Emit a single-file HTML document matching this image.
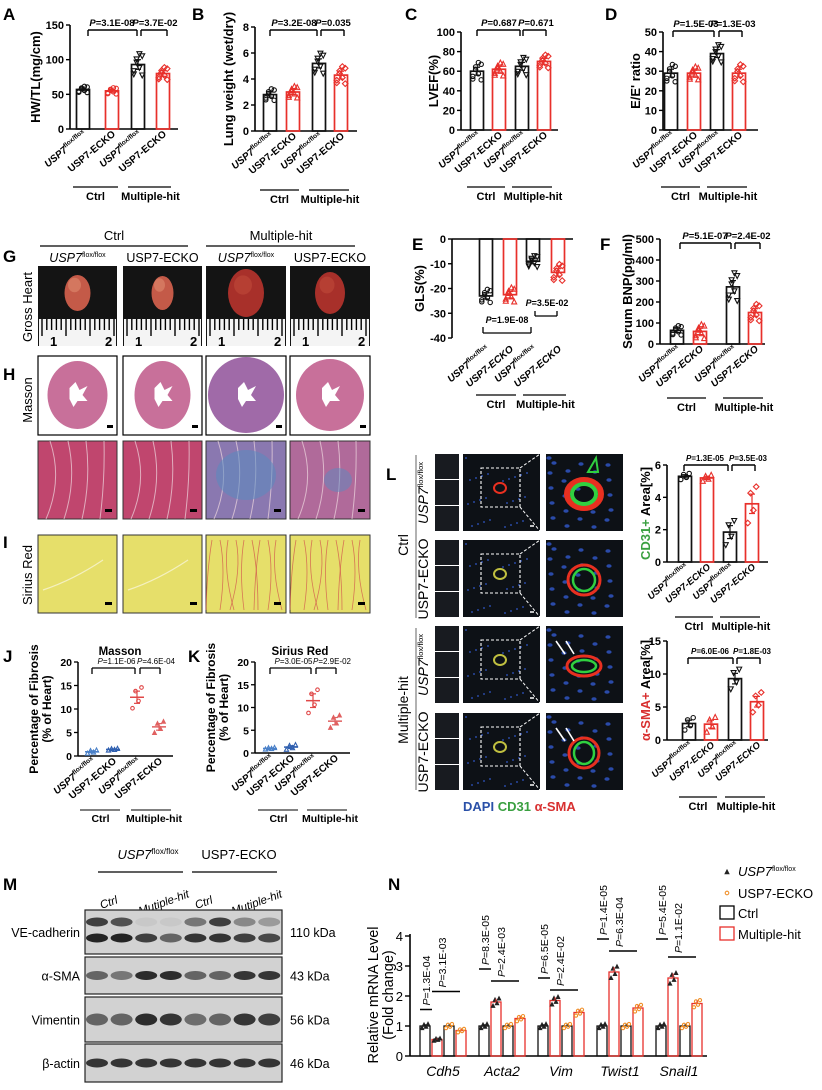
<!DOCTYPE html>
<html><head><meta charset="utf-8"><style>
html,body{margin:0;padding:0;background:#fff;width:822px;height:1090px;overflow:hidden}
svg{display:block;font-family:"Liberation Sans",Arial,sans-serif}
</style></head><body>
<svg id="s" width="822" height="1090" viewBox="0 0 822 1090" xmlns="http://www.w3.org/2000/svg"></svg>
<script>
var o=[];
function T(x,y,s,a){o.push('<text x="'+x+'" y="'+y+'" '+(a||'')+'>'+s+'</text>');}
function L(x1,y1,x2,y2,c,w,ex){o.push('<line x1="'+x1+'" y1="'+y1+'" x2="'+x2+'" y2="'+y2+'" stroke="'+(c||'#000')+'" stroke-width="'+(w||1.3)+'" '+(ex||'')+'/>');}
function R(x,y,w,h,f,ex){o.push('<rect x="'+x+'" y="'+y+'" width="'+w+'" height="'+h+'" fill="'+f+'" '+(ex||'')+'/>');}
var FL='<tspan font-style="italic">USP7</tspan><tspan font-size="6.5" dy="-4">flox/flox</tspan>';
function mk(x,y,sh,c,r){r=r||2.2;
 if(sh==0)o.push('<circle cx="'+x+'" cy="'+y+'" r="'+r+'" fill="none" stroke="'+c+'" stroke-width="1.1"/>');
 else if(sh==1)o.push('<polygon points="'+x+','+(y-r-.5)+' '+(x+r+.3)+','+(y+r)+' '+(x-r-.3)+','+(y+r)+'" fill="none" stroke="'+c+'" stroke-width="1.1"/>');
 else if(sh==2)o.push('<polygon points="'+x+','+(y+r+.5)+' '+(x+r+.3)+','+(y-r)+' '+(x-r-.3)+','+(y-r)+'" fill="none" stroke="'+c+'" stroke-width="1.1"/>');
 else if(sh==3)o.push('<polygon points="'+x+','+(y-r-.6)+' '+(x+r+.6)+','+y+' '+x+','+(y+r+.6)+' '+(x-r-.6)+','+y+'" fill="none" stroke="'+c+'" stroke-width="1.1"/>');
 else o.push('<polygon points="'+x+','+(y-r-.5)+' '+(x+r+.3)+','+(y+r)+' '+(x-r-.3)+','+(y+r)+'" fill="'+c+'" stroke="'+c+'" stroke-width=".8"/>');}
var K='#111',RD='#e8302b';
var spread=[-.9,.5,-.3,.8,-.6,.2,1.0,-1.0];
function chart(c){
 var Y=function(v){return c.yb-(v-c.min)/(c.max-c.min)*(c.yb-c.yt);};
 var y0=Y(0);
 L(c.ax,c.yt,c.ax,c.yb,'#000',1.6);
 L(c.ax,y0,c.xe,y0,'#000',1.6);
 c.ticks.forEach(function(v){L(c.ax-4,Y(v),c.ax,Y(v),'#000',1.4);T(c.ax-6,Y(v)+4,v,'font-size="11" font-weight="bold" text-anchor="end"');});
 o.push('<text transform="translate('+c.ylx+','+((c.yt+c.yb)/2)+') rotate(-90)" font-size="'+(c.yfs||13)+'" font-weight="bold" text-anchor="middle">'+c.yl+'</text>');
 c.bars.forEach(function(b,i){var col=i%2?RD:K;var yv=Y(b.v);
  R(b.x-6.5,Math.min(yv,y0),13,Math.abs(y0-yv),'none','stroke="'+col+'" stroke-width="1.7"');
  var e=b.e||(c.max-c.min)*.04;
  L(b.x,Y(b.v-e),b.x,Y(b.v+e),col,1.2);L(b.x-3,Y(b.v+e),b.x+3,Y(b.v+e),col,1.2);L(b.x-3,Y(b.v-e),b.x+3,Y(b.v-e),col,1.2);
  var n=c.n||8;for(var k=0;k<n;k++){var dv=spread[k]*(b.sd||e*2.2);mk(b.x+((k%4)-1.5)*2.8,Y(b.v+dv),b.sh!=null?b.sh:i,col);}
 });
 (c.br||[]).forEach(function(q){L(q[0],q[2]+6,q[0],q[2],'#000',1.4);L(q[0],q[2],q[1],q[2],'#000',1.4);L(q[1],q[2],q[1],q[2]+6,'#000',1.4);T(q[3],q[2]-4,'<tspan font-style="italic">P</tspan>='+q[4],'font-size="'+(c.pfs||9.5)+'" font-weight="bold" text-anchor="middle"');});
 var ly=c.labY||(c.yb+6);
 c.bars.forEach(function(b,i){var s=i%2?'USP7-ECKO':FL;o.push('<text transform="translate('+(b.x+4)+','+ly+') rotate(-40)" font-size="'+(c.lfs||10)+'" font-weight="bold" text-anchor="end"'+(c.it&&i%2?' font-style="italic"':'')+'>'+s+'</text>');});
 var b=c.bars,g=c.gy;
 L(b[0].x-10,g,b[1].x+6,g,'#000',1.2);L(b[2].x-10,g,b[3].x+8,g,'#000',1.2);
 T((b[0].x+b[1].x)/2-2,g+13,'Ctrl','font-size="11" font-weight="bold" text-anchor="middle"');
 T((b[2].x+b[3].x)/2,g+13,'Multiple-hit','font-size="11" font-weight="bold" text-anchor="middle"');
}
function P(x,y,s){T(x,y,s,'font-size="17" font-weight="bold"');}
P(3,20,'A');P(192,20,'B');P(405,20,'C');P(605,20,'D');
chart({ax:70,yt:25,yb:129,min:0,max:150,ticks:[0,50,100,150],xe:178,yl:'HW/TL(mg/cm)',ylx:40,gy:187,
 bars:[{x:83,v:57,e:2,sh:0},{x:112,v:55,e:2,sh:0},{x:138,v:93,e:7,sh:2},{x:163,v:80,e:4,sh:3}],
 br:[[88,137,30,112,'3.1E-08'],[141,167,30,155,'3.7E-02']]});
chart({ax:255,yt:27,yb:131,min:0,max:8,ticks:[0,2,4,6,8],xe:357,yl:'Lung weight (wet/dry)',ylx:233,yfs:13,gy:190,
 bars:[{x:270,v:2.8,e:.2,sh:0},{x:293,v:3.0,e:.2,sh:1},{x:319,v:5.2,e:.35,sh:2},{x:341,v:4.3,e:.3,sh:3}],
 br:[[270,317,30,294,'3.2E-08'],[321,344,30,333,'0.035']]});
chart({ax:461,yt:32,yb:130,min:0,max:100,ticks:[0,20,40,60,80,100],xe:558,yl:'LVEF(%)',ylx:438,gy:187,
 bars:[{x:477,v:60,e:4,sh:0},{x:499,v:62,e:3,sh:1},{x:522,v:65,e:4,sh:2},{x:544,v:70,e:3,sh:3}],
 br:[[477,520,30,499,'0.687'],[523,546,30,536,'0.671']]});
chart({ax:663,yt:32,yb:130,min:0,max:50,ticks:[0,10,20,30,40,50],xe:758,yl:'E/E\' ratio',ylx:640,gy:187,
 bars:[{x:671,v:29,e:2,sh:0},{x:694,v:29,e:1.5,sh:1},{x:717,v:39,e:2,sh:2},{x:739,v:29,e:2,sh:3}],
 br:[[673,714,31,696,'1.5E-03'],[719,742,31,733,'1.3E-03']]});
P(412,250,'E');P(600,250,'F');
chart({ax:452,yt:239,yb:338,min:-40,max:0,ticks:[0,-10,-20,-30,-40],xe:573,yl:'GLS(%)',ylx:424,gy:395,labY:350,it:true,
 bars:[{x:486,v:-23,e:1.2,sh:0},{x:510,v:-22.5,e:1.3,sh:1},{x:533,v:-9,e:1,sh:2},{x:558,v:-13.5,e:1.5,sh:3}]});
L(483,327,483,333);L(483,333,531,333);L(531,333,531,327);T(507,323,'<tspan font-style="italic">P</tspan>=1.9E-08','font-size="9" font-weight="bold" text-anchor="middle"');
L(535,311,535,316);L(535,316,557,316);L(557,316,557,311);T(547,306,'<tspan font-style="italic">P</tspan>=3.5E-02','font-size="9" font-weight="bold" text-anchor="middle"');
chart({ax:660,yt:239,yb:344,min:0,max:500,ticks:[0,100,200,300,400,500],xe:765,yl:'Serum BNP(pg/ml)',ylx:632,gy:398,labY:350,it:true,
 bars:[{x:677,v:65,e:10,sh:0},{x:700,v:60,e:15,sh:1},{x:733,v:272,e:30,sh:2},{x:755,v:150,e:18,sh:3}],
 br:[[680,731,243,705,'5.1E-07'],[735,760,243,748,'2.4E-02']]});
P(3,262,'G');
T(114,240,'Ctrl','font-size="13" text-anchor="middle"');T(281,240,'Multiple-hit','font-size="13" text-anchor="middle"');
L(40,246,188,246,'#000',1.3);L(206,246,355,246,'#000',1.3);
var px=[[38,117],[123,202],[206,286],[290,370]];
['<tspan font-style="italic">USP7</tspan><tspan font-size="7" dy="-5">flox/flox</tspan>','USP7-ECKO','<tspan font-style="italic">USP7</tspan><tspan font-size="7" dy="-5">flox/flox</tspan>','USP7-ECKO'].forEach(function(s,i){T((px[i][0]+px[i][1])/2,262,s,'font-size="12.5" text-anchor="middle"');});
o.push('<text transform="translate(32,307) rotate(-90)" font-size="13" text-anchor="middle">Gross Heart</text>');
var hs=[[13,18],[11,17],[18,24],[15,21]];
px.forEach(function(p,i){var w=p[1]-p[0],cx=(p[0]+p[1])/2;R(p[0],266,w,80,'#141414');
 o.push('<ellipse cx="'+cx+'" cy="'+(293)+'" rx="'+hs[i][0]+'" ry="'+hs[i][1]+'" fill="'+(i>1?'#a8302a':'#c45a48')+'"/>');
 o.push('<ellipse cx="'+(cx-3)+'" cy="'+(285)+'" rx="'+(hs[i][0]*.5)+'" ry="'+(hs[i][1]*.4)+'" fill="'+(i>1?'#c04a3a':'#e08a70')+'" opacity=".6"/>');
 R(p[0]+1,319,w-2,27,'#f4f4f4');
 for(var k=0;k<16;k++){var xx=p[0]+4+k*4.8;L(xx,319,xx,k%5==0?336:330,'#000',1.4);}
 T(p[0]+12,346,'1','font-size="13" font-weight="bold"');T(p[1]-12,346,'2','font-size="13" font-weight="bold"');});
P(3,380,'H');
o.push('<text transform="translate(32,400) rotate(-90)" font-size="13" text-anchor="middle">Masson</text>');
var hr=[[30,34],[28,34],[38,40],[34,36]];
px.forEach(function(p,i){var w=p[1]-p[0],cx=(p[0]+p[1])/2;R(p[0],356,w,79,'#fff','stroke="#000" stroke-width="1.2"');
 o.push('<ellipse cx="'+cx+'" cy="395" rx="'+Math.min(hr[i][0],w/2-2)+'" ry="'+Math.min(hr[i][1],38)+'" fill="'+(i==2?'#a06aa8':'#c8709a')+'"/>');
 o.push('<path d="M'+(cx-8)+' 388 l6 -6 l4 8 l8 -4 l-5 9 l5 6 l-10 0 l-4 6 l-4 -8 z" fill="#fff"/>');
 R(p[1]-10,425,6,3,'#000');
 R(p[0],441,w,78,i==2?'#8a78b0':(i==3?'#b06a9a':'#c0466e'),'stroke="#333" stroke-width="1"');
 for(var k=0;k<4;k++)o.push('<path d="M'+(p[0]+8+k*18)+' 519 Q'+(p[0]+25+k*14)+' 480 '+(p[0]+12+k*18)+' 441" stroke="#f0d8e0" stroke-width="1" fill="none" opacity=".7"/>');
 if(i==2){o.push('<ellipse cx="'+cx+'" cy="475" rx="30" ry="25" fill="#5a8ac0" opacity=".55"/>');}
 if(i==3){o.push('<ellipse cx="'+(cx+8)+'" cy="480" rx="14" ry="12" fill="#5a8ac0" opacity=".5"/>');}
 R(p[1]-12,509,7,3,'#000');});
P(3,548,'I');
o.push('<text transform="translate(32,575) rotate(-90)" font-size="13" text-anchor="middle">Sirius Red</text>');
px.forEach(function(p,i){var w=p[1]-p[0];R(p[0],535,w,78,'#e6df6a','stroke="#333" stroke-width="1"');
 if(i>=2){for(var k=0;k<9;k++)o.push('<path d="M'+(p[0]+6+k*8)+' 540 q'+(k%2?6:-5)+' 30 '+(k%3-1)*6+' 70" stroke="#d04a4a" stroke-width=".8" fill="none" opacity=".7"/>');}
 else{o.push('<path d="M'+(p[0]+5)+' 590 q30 -10 60 -30" stroke="#f4f0c0" stroke-width="1.2" fill="none"/>');}
 R(p[1]-12,602,7,3,'#000');});
P(3,662,'J');P(188,662,'K');
T(120,655,'Masson','font-size="11.5" font-weight="bold" text-anchor="middle"');T(300,655,'Sirius Red','font-size="11.5" font-weight="bold" text-anchor="middle"');
function scat(c){var Y=function(v){return c.yb-v/20*(c.yb-c.yt);};
 L(c.ax,c.yt,c.ax,c.yb,'#000',1.5);L(c.ax,c.yb,c.ax+95,c.yb,'#000',1.5);
 [0,5,10,15,20].forEach(function(v){L(c.ax-4,Y(v),c.ax,Y(v),'#000',1.3);T(c.ax-6,Y(v)+4,v,'font-size="10.5" font-weight="bold" text-anchor="end"');});
 o.push('<text transform="translate('+(c.ax-40)+','+((c.yt+c.yb)/2)+') rotate(-90)" font-size="12" font-weight="bold" text-anchor="middle">Percentage of Fibrosis</text>');
 o.push('<text transform="translate('+(c.ax-27)+','+((c.yt+c.yb)/2)+') rotate(-90)" font-size="12" font-weight="bold" text-anchor="middle">(% of Heart)</text>');
 var cols=['#4a80c8','#3060b0','#e04848','#e06060'];
 c.x.forEach(function(x,i){var v=c.v[i];L(x-7,Y(v),x+7,Y(v),cols[i],1.5);L(x,Y(v-c.e[i]),x,Y(v+c.e[i]),cols[i],1.2);L(x-3,Y(v+c.e[i]),x+3,Y(v+c.e[i]),cols[i],1.2);L(x-3,Y(v-c.e[i]),x+3,Y(v-c.e[i]),cols[i],1.2);
  for(var k=0;k<4;k++)mk(x+(k-1.5)*3,Y(v+spread[k]*c.e[i]*2),i<2?1:(i==2?0:4),cols[i],1.8);
  var s=i%2?'USP7-ECKO':FL;o.push('<text transform="translate('+(x+4)+','+(c.yb+6)+') rotate(-40)" font-size="10" font-weight="bold" text-anchor="end">'+s+'</text>');});
 L(c.x[0]-12,810,c.x[1]+7,810,'#000',1.1);L(c.x[2]-6,810,c.x[3]+12,810,'#000',1.1);
 T((c.x[0]+c.x[1])/2-2,822,'Ctrl','font-size="10.5" font-weight="bold" text-anchor="middle"');T((c.x[2]+c.x[3])/2+6,822,'Multiple-hit','font-size="10.5" font-weight="bold" text-anchor="middle"');
 var b=c.br;L(c.x[0],674,c.x[0],668);L(c.x[0],668,c.x[2]-2,668);L(c.x[2]-2,668,c.x[2]-2,674);L(c.x[2]+3,674,c.x[2]+3,668);L(c.x[2]+3,668,c.x[3]+1,668);L(c.x[3]+1,668,c.x[3]+1,674);
 T((c.x[0]+c.x[2])/2+2,664,'<tspan font-style="italic">P</tspan>='+b[0],'font-size="8" text-anchor="middle"');T((c.x[2]+c.x[3])/2+8,664,'<tspan font-style="italic">P</tspan>='+b[1],'font-size="8" text-anchor="middle"');}
scat({ax:78,yt:662,yb:756,x:[92,113,137,159],v:[.9,1.4,12.5,6.2],e:[.2,.1,1.3,.7],br:['1.1E-06','4.6E-04']});
scat({ax:255,yt:662,yb:753,x:[270,291,313,335],v:[1,1.3,11.5,7],e:[.1,.3,1.5,.8],br:['3.0E-05','2.9E-02']});
P(386,480,'L');
o.push('<text transform="translate(408,545) rotate(-90)" font-size="14" text-anchor="middle">Ctrl</text>');
o.push('<text transform="translate(408,710) rotate(-90)" font-size="14" text-anchor="middle">Multiple-hit</text>');
L(416,455,416,618,'#555',.9);L(416,628,416,790,'#555',.9);
var rows=[454,540,626,713];
['<tspan font-style="italic">USP7</tspan><tspan font-size="7.5" dy="-5">flox/flox</tspan>','USP7-ECKO','<tspan font-style="italic">USP7</tspan><tspan font-size="7.5" dy="-5">flox/flox</tspan>','USP7-ECKO'].forEach(function(s,i){o.push('<text transform="translate(428,'+(rows[i]+39)+') rotate(-90)" font-size="14" text-anchor="middle">'+s+'</text>');});
rows.forEach(function(y,i){
 for(var k=0;k<3;k++)R(435,y+k*26,24,25,'#181b20');
 R(463,y,77,77,'#0d1116');R(546,y,77,77,'#0d1116');
 for(var k=0;k<26;k++){o.push('<circle cx="'+(466+((k*37)%72))+'" cy="'+(y+4+((k*23)%70))+'" r="1" fill="#2848a0"/>');o.push('<ellipse cx="'+(549+((k*29)%72))+'" cy="'+(y+4+((k*31)%70))+'" rx="2.6" ry="1.8" fill="#2a4aa8"/>');}
 R(481,y+14,39,39,'none','stroke="#fff" stroke-width="1.1" stroke-dasharray="3,2"');
 L(520,y+14,540,y,'#fff',1,'stroke-dasharray="3,2"');L(520,y+53,540,y+77,'#fff',1,'stroke-dasharray="3,2"');
 var rr=[[12,10],[11,11],[12,6],[10,11]][i];
 o.push('<ellipse cx="584" cy="'+(y+40)+'" rx="'+(rr[0]+5)+'" ry="'+(rr[1]+4)+'" fill="none" stroke="#e83020" stroke-width="'+(i==0?6:3)+'"/>');
 o.push('<ellipse cx="584" cy="'+(y+40)+'" rx="'+rr[0]+'" ry="'+rr[1]+'" fill="none" stroke="#30d040" stroke-width="'+(i==0?4:2.5)+'"/>');
 o.push('<ellipse cx="500" cy="'+(y+34)+'" rx="6" ry="5" fill="none" stroke="'+(i==0?'#e83020':'#c0c040')+'" stroke-width="2"/>');
 if(i==0){o.push('<path d="M596 '+(y+4)+' l-8 14 l10 0 z" fill="none" stroke="#30d040" stroke-width="2"/>');}
 if(i>=2){L(556,y+15,565,y+28,'#fff',1.6);L(566,y+15,574,y+28,'#fff',1.6);}
 L(530,y+72,534,y+72,'#fff',1.5);});
T(463,811,'<tspan fill="#2a50a8">DAPI</tspan> <tspan fill="#3aa040">CD31</tspan> <tspan fill="#d83030">α-SMA</tspan>','font-size="13" font-weight="bold"');
chart({ax:667,yt:465,yb:562,min:0,max:6,ticks:[0,2,4,6],xe:768,yl:'<tspan fill="#3aa040">CD31+</tspan> Area[%]',ylx:650,gy:617,n:4,pfs:8,lfs:9.5,it:true,
 bars:[{x:685,v:5.3,e:.1,sh:0},{x:707,v:5.2,e:.1,sh:1},{x:730,v:1.85,e:.4,sh:2},{x:752,v:3.6,e:.6,sh:3}],
 br:[[684,728,465,705,'1.3E-05'],[732,755,465,748,'3.5E-03']]});
chart({ax:667,yt:641,yb:740,min:0,max:15,ticks:[0,5,10,15],xe:768,yl:'<tspan fill="#d83030">α-SMA+</tspan> Area[%]',ylx:650,gy:797,n:4,pfs:8,lfs:9.5,it:true,
 bars:[{x:689,v:2.5,e:.5,sh:0},{x:711,v:2.4,e:.6,sh:1},{x:735,v:9.3,e:.8,sh:2},{x:757,v:5.8,e:.8,sh:3}],
 br:[[688,733,658,710,'6.0E-06'],[737,760,658,752,'1.8E-03']]});
P(3,890,'M');
T(148,859,'<tspan font-style="italic">USP7</tspan><tspan font-size="8" dy="-5">flox/flox</tspan>','font-size="13" text-anchor="middle"');
T(239,859,'USP7-ECKO','font-size="13" text-anchor="middle"');
L(98,872,183,872,'#000',1.3);L(192,872,277,872,'#000',1.3);
[[110,'Ctrl'],[165,'Mutiple-hit'],[205,'Ctrl'],[258,'Mutiple-hit']].forEach(function(q){o.push('<text transform="translate('+q[0]+',906) rotate(-20)" font-size="11.5" font-style="italic" text-anchor="middle">'+q[1]+'</text>');});
var bl=[[910,954,'VE-cadherin','110 kDa'],[957,994,'α-SMA','43 kDa'],[997,1042,'Vimentin','56 kDa'],[1044,1082,'β-actin','46 kDa']];
var inten=[[[.8,.7,.05,.05,.5,.8,.4,.3],[.95,.95,.8,.6,.85,.85,.8,.75]],[[.6,.5,.9,.9,.6,.6,.85,.85]],[[.6,.6,.9,.85,.55,.6,.85,.8]],[[.85,.85,.85,.85,.85,.85,.85,.85]]];
bl.forEach(function(b,i){R(85,b[0],197,b[1]-b[0],'#d2d2d2','stroke="#222" stroke-width="1.2"');
 T(80,(b[0]+b[1])/2+5,b[2],'font-size="12.5" text-anchor="end"');T(290,(b[0]+b[1])/2+5,b[3],'font-size="12.5"');
 var ys=i==0?[b[0]+12,b[0]+28]:[(b[0]+b[1])/2];
 ys.forEach(function(yy,j){inten[i][j].forEach(function(a,k){o.push('<ellipse cx="'+(97+k*24.6)+'" cy="'+yy+'" rx="11" ry="'+(i==2?6:4.5)+'" fill="#1a1a1a" opacity="'+a+'"/>');});});});
P(388,890,'N');
var NY=function(v){return 1056-v*30;};
L(410,934,410,1056,'#000',1.6);L(410,1056,707,1056,'#000',1.6);
[0,1,2,3,4].forEach(function(v){L(405,NY(v),410,NY(v),'#000',1.4);T(403,NY(v)+5,v,'font-size="13" text-anchor="end"');});
o.push('<text transform="translate(378,995) rotate(-90)" font-size="14.5" text-anchor="middle">Relative mRNA Level</text>');
o.push('<text transform="translate(393,995) rotate(-90)" font-size="14.5" text-anchor="middle">(Fold change)</text>');
var genes=[['Cdh5',[1,.55,1,.85],['1.3E-04','3.1E-03'],[1.55,2.15]],['Acta2',[1,1.8,1,1.25],['8.3E-05','2.4E-03'],[2.9,2.5]],['Vim',[1,1.85,1,1.45],['6.5E-05','2.4E-02'],[2.6,2.2]],['Twist1',[1,2.8,1,1.6],['1.4E-05','6.3E-04'],[3.9,3.5]],['Snail1',[1,2.6,1,1.75],['5.4E-05','1.1E-02'],[3.9,3.3]]];
genes.forEach(function(g,gi){var s=420+gi*59;
 g[1].forEach(function(v,k){var x=s+k*12,c=k%2?RD:K;R(x,NY(v),10,NY(0)-NY(v),'none','stroke="'+c+'" stroke-width="1.3"');
  var mc=k<2?'#222':'#f0902a';for(var q=0;q<4;q++)mk(x+2+q*2,NY(v+spread[q]*v*.08),k<2?4:0,mc,1.6);
  L(x+5,NY(v),x+5,NY(v+v*.06),c,1);});
 T(s+23,1076,g[0],'font-size="14" font-style="italic" text-anchor="middle"');
 L(s,NY(g[3][0]),s+12,NY(g[3][0]),'#000',1.5);L(s+12,NY(g[3][1]),s+40,NY(g[3][1]),'#000',1.5);
 o.push('<text transform="translate('+(s+10)+','+(NY(g[3][0])-4)+') rotate(-90)" font-size="10.5"><tspan font-style="italic">P</tspan>='+g[2][0]+'</text>');
 o.push('<text transform="translate('+(s+26)+','+(NY(g[3][1])-4)+') rotate(-90)" font-size="10.5"><tspan font-style="italic">P</tspan>='+g[2][1]+'</text>');});
mk(727,872,4,'#222',1.8);T(738,876,'<tspan font-style="italic">USP7</tspan><tspan font-size="7" dy="-5">flox/flox</tspan>','font-size="13"');
mk(727,893,0,'#f0902a',1.8);T(738,898,'USP7-ECKO','font-size="13"');
R(720,906,14,13,'none','stroke="#000" stroke-width="1.3"');T(738,918,'Ctrl','font-size="13"');
R(720,927,14,13,'none','stroke="#e8302b" stroke-width="1.3"');T(738,939,'Multiple-hit','font-size="13"');
document.getElementById('s').innerHTML=o.join('');
</script>
</body></html>
